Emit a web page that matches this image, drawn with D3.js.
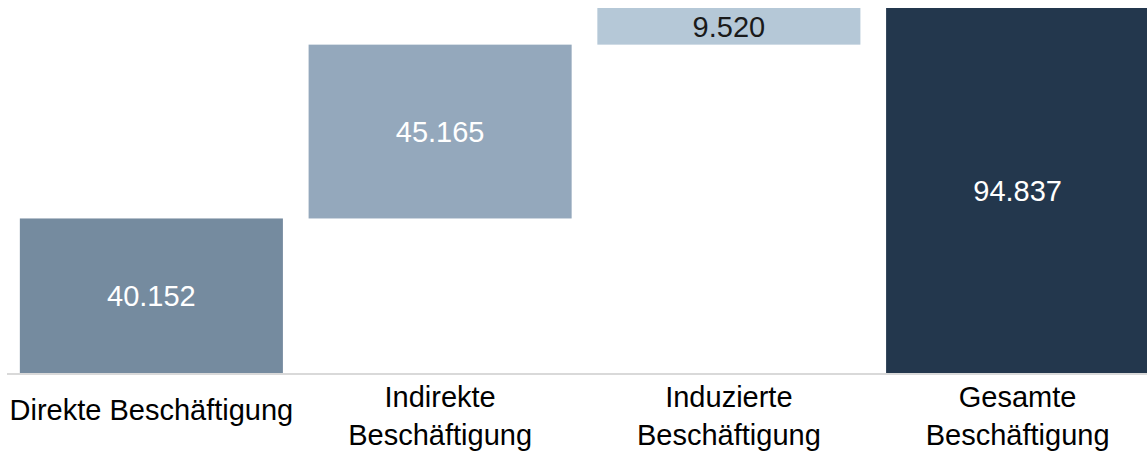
<!DOCTYPE html>
<html>
<head>
<meta charset="utf-8">
<script src="https://cdn.jsdelivr.net/npm/d3@7"></script>
<style>
  html, body { margin: 0; padding: 0; background: #fff; }
  svg { display: block; }
</style>
</head>
<body>
<svg id="chart" width="1147" height="460"></svg>
<script>
const categories = ["Direkte Beschäftigung", "Indirekte Beschäftigung", "Induzierte Beschäftigung", "Gesamte Beschäftigung"];
const labelLines = [["Direkte Beschäftigung"], ["Indirekte", "Beschäftigung"], ["Induzierte", "Beschäftigung"], ["Gesamte", "Beschäftigung"]];
const values = [40152, 45165, 9520, 94837];
const isTotal = [false, false, false, true];
const valueLabels = ["40.152", "45.165", "9.520", "94.837"];
const barColors = ["#758b9f", "#94a8bc", "#b5c8d7", "#23374d"];
const valueTextColors = ["#ffffff", "#ffffff", "#1a1a1a", "#ffffff"];

// build waterfall segments
let running = 0;
const data = categories.map((c, i) => {
  let start, end;
  if (isTotal[i]) { start = 0; end = values[i]; running = values[i]; }
  else { start = running; end = running + values[i]; running = end; }
  return { cat: c, start, end, i };
});

const svg = d3.select("#chart");
const x = d3.scaleBand().domain(categories).range([7, 1162]).paddingInner(0.089).paddingOuter(0.0445);
const y = d3.scaleLinear().domain([0, 94837]).range([373, 8]);

svg.selectAll("rect.bar").data(data).enter().append("rect")
  .attr("class", "bar")
  .attr("x", d => x(d.cat))
  .attr("width", x.bandwidth())
  .attr("y", d => y(d.end))
  .attr("height", d => y(d.start) - y(d.end))
  .attr("fill", (d, i) => barColors[i]);

// baseline
svg.append("line")
  .attr("x1", 7).attr("x2", 1147)
  .attr("y1", 374).attr("y2", 374)
  .attr("stroke", "#d9d9d9").attr("stroke-width", 1.8);

const font = "'Liberation Sans', Arial, sans-serif";

svg.selectAll("text.val").data(data).enter().append("text")
  .attr("class", "val")
  .attr("x", d => x(d.cat) + x.bandwidth() / 2)
  .attr("y", d => (y(d.start) + y(d.end)) / 2)
  .attr("dy", "0.36em")
  .attr("text-anchor", "middle")
  .attr("font-family", font)
  .attr("font-size", 29)
  .attr("fill", (d, i) => valueTextColors[i])
  .text((d, i) => valueLabels[i]);

const lab = svg.selectAll("text.cat").data(data).enter().append("text")
  .attr("class", "cat")
  .attr("text-anchor", "middle")
  .attr("font-family", font)
  .attr("font-size", 29)
  .attr("fill", "#000");
lab.each(function(d, i) {
  const lines = labelLines[i];
  const cx = x(d.cat) + x.bandwidth() / 2;
  const t = d3.select(this);
  if (lines.length === 1) {
    t.append("tspan").attr("x", cx).attr("y", 420).text(lines[0]);
  } else {
    lines.forEach((l, k) => t.append("tspan").attr("x", cx).attr("y", 407 + k * 38).text(l));
  }
});
</script>
</body>
</html>
